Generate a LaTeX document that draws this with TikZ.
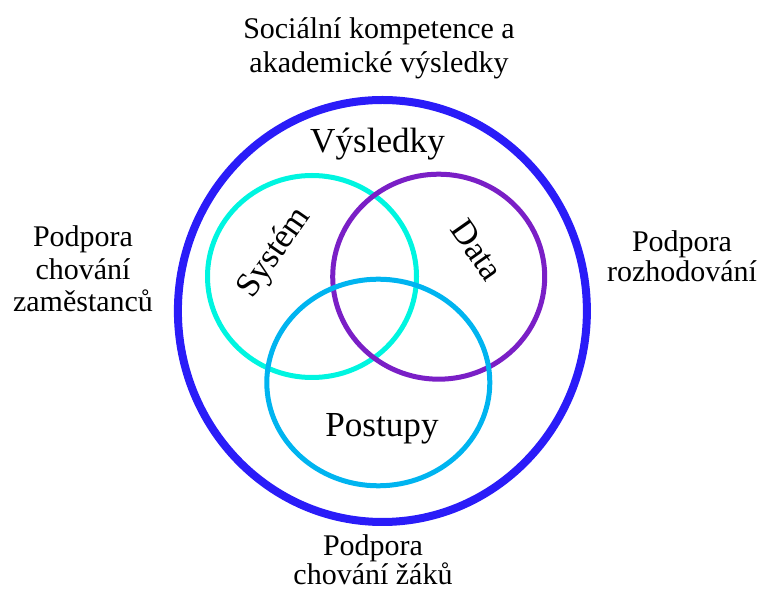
\documentclass[tikz,border=0pt]{standalone}
\usepackage{fontspec}
\setmainfont{Liberation Serif}
\usetikzlibrary{positioning}
\definecolor{VnejsiModra}{RGB}{42, 28, 248}
\definecolor{Tyrkys}{RGB}{0, 245, 224}
\definecolor{Fialova}{RGB}{122, 31, 198}
\definecolor{Nebeska}{RGB}{0, 180, 240}

\begin{document}
\begin{tikzpicture}[
        x=0.03cm, y=0.03cm,
        kruh/.style={line width=0.15cm},
        vnejsi/.style={
            align=center,
            anchor=base,
            inner sep=0pt,
            font=\fontsize{25.6pt}{#1}\selectfont
        },
        vnitrni/.style={
            anchor=base,
            inner sep=0pt,
            font=\fontsize{30pt}{34pt}\selectfont
        },
        sikmy/.style={
            inner sep=0pt,
            font=\fontsize{29.5pt}{34pt}\selectfont
        }
    ]
    \useasboundingbox (0,0) rectangle (762,592);

    % Kruhy
    \draw[VnejsiModra, line width=0.24cm] (382.4,281) ellipse [x radius=204.5, y radius=211];
    \draw[kruh, Tyrkys] (312,315.5) ellipse [x radius=104.5, y radius=101];
    \draw[kruh, Fialova] (438.7,315.3) ellipse [x radius=106, y radius=102.5];
    \draw[kruh, Nebeska] (378.3,209.5) ellipse [x radius=111.5, y radius=103.3];

    % Popisky uvnitr
    \node[vnitrni] (vysledky) at (377.5,439.5) {Výsledky};
    \node[vnitrni] (postupy) at (382,155.3) {Postupy};
    \node[sikmy, rotate=55] (system) at (275,339) {Systém};
    \node[sikmy, rotate=-55] (data) at (477,342) {Data};

    % Popisky vne (kotva = posledni radek)
    \node[vnejsi=29pt] (socialni) at (379,519.3) {Sociální kompetence a\\akademické výsledky};
    \node[vnejsi=27.7pt] (zamestanci) at (83,280.3) {Podpora\\chování\\zaměstanců};
    \node[vnejsi=25.6pt] (rozhodovani) at (682,310.3) {Podpora\\rozhodování};
    \node[vnejsi=24.8pt] (zaci) at (373,7) {Podpora\\chování žáků};

\end{tikzpicture}
\end{document}
